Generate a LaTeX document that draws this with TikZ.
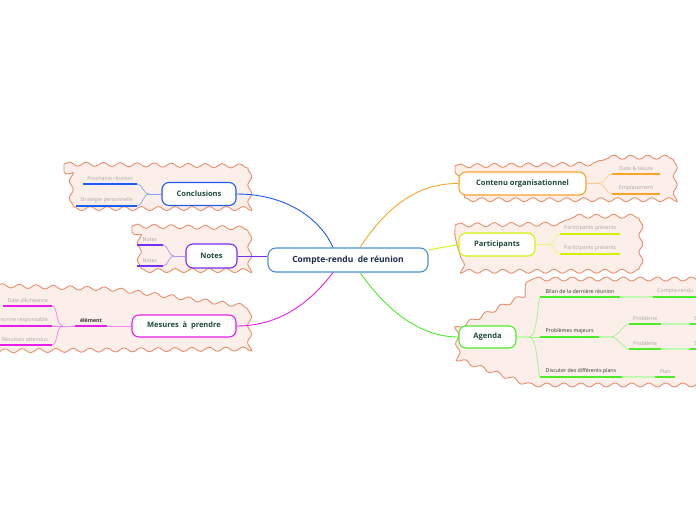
\documentclass[tikz,border=0pt]{standalone}
\usepackage{fontspec}
\setmainfont{Open Sans}
\usetikzlibrary{decorations.pathmorphing}

\definecolor{cloudline}{HTML}{E98E6C}
\definecolor{cloudfill}{HTML}{FCEEE8}
\definecolor{centralblue}{HTML}{4A8FD6}
\definecolor{centraltext}{HTML}{1C2B4A}
\definecolor{topictext}{HTML}{1D4A3B}
\definecolor{leafgray}{HTML}{A6A6A6}
\definecolor{darktext}{HTML}{333333}
\definecolor{blueC}{HTML}{1F5CF5}
\definecolor{purpleC}{HTML}{7A2EF0}
\definecolor{magentaC}{HTML}{E81EE8}
\definecolor{orangeC}{HTML}{F7A528}
\definecolor{yellowC}{HTML}{D3F20A}
\definecolor{greenC}{HTML}{4FEA2A}

\tikzset{
  cloudzone/.style={draw=cloudline, fill=cloudfill, line width=0.9pt, decorate,
    decoration={snake, segment length=17pt, amplitude=2pt}},
  topic/.style={draw=#1, fill=white, line width=1.1pt, rounded corners=7pt,
    minimum height=23pt, inner sep=0pt, text=topictext,
    font=\fontsize{7.5}{9}\selectfont\bfseries},
  link/.style={draw=#1, line width=0.9pt},
  fork/.style={draw=#1!55, line width=0.7pt},
  leaf/.style={inner xsep=4pt, inner ysep=3.5pt, text=leafgray,
    font=\fontsize{5.3}{6}\selectfont},
  aleaf/.style={inner xsep=5.5pt, inner ysep=3.5pt, text=darktext,
    font=\fontsize{5.3}{6}\selectfont},
  bar/.style={draw=#1, line width=1.8pt},
  softbar/.style={draw=#1!35, line width=1.8pt},
}

\begin{document}
\begin{tikzpicture}[x=1pt,y=-1pt]
\useasboundingbox (0,0) rectangle (696,520);
\clip (0,0) rectangle (696,520);

% zones
\path[cloudzone] (64,164) -- (243,166) -- (243,212) -- (64,212) -- cycle;
\path[cloudzone] (132,226) -- (244,228) -- (244,272) -- (132,272) -- cycle;
\path[cloudzone] (-20,285) -- (110,289) -- (242,306) -- (242,350) -- (-20,352) -- cycle;
\path[cloudzone] (455,166) -- (590,164) -- (600,155) -- (664,155) -- (664,200) -- (455,200) -- cycle;
\path[cloudzone] (455,225) -- (557,224) -- (565,215) -- (633,215) -- (633,260) -- (455,260) -- cycle;
\path[cloudzone] (533,279) -- (712,279) -- (712,383) -- (530,383) -- (455,356) -- (453,318) -- cycle;

% centre + topics
\node[topic=centralblue, minimum width=160pt, minimum height=24pt, rounded corners=8pt,
  text=centraltext, font=\fontsize{8.5}{10}\selectfont\bfseries] (central) at (348,260) {Compte-rendu~ de réunion};
\node[topic=blueC, minimum width=74pt] (concl) at (199,194) {Conclusions};
\node[topic=purpleC, minimum width=51pt, minimum height=24pt] (notes) at (211.5,256) {Notes};
\node[topic=magentaC, minimum width=104pt, minimum height=22pt] (mesures) at (184,326) {Mesures~ à~ prendre};
\node[topic=orangeC, minimum width=127pt] (contenu) at (522.5,183.5) {Contenu organisationnel};
\node[topic=yellowC, minimum width=76pt] (part) at (497,244.5) {Participants};
\node[topic=greenC, minimum width=57pt, minimum height=22pt] (agenda) at (487.5,337) {Agenda};

% links to centre
\draw[link=blueC] (concl.east) .. controls (290,194) and (322,222) .. ([xshift=-15pt]central.north);
\draw[link=purpleC] (notes.east) -- (notes.east -| central.west);
\draw[link=magentaC] (mesures.east) .. controls (282,326) and (312,300) .. ([xshift=-15pt]central.south);
\draw[link=orangeC] ([xshift=12pt]central.north) .. controls (382,214) and (412,183) .. (contenu.west);
\draw[link=yellowC] ([yshift=10pt]central.east) -- (part.west);
\draw[link=greenC] ([xshift=12pt]central.south) .. controls (385,308) and (418,337) .. (agenda.west);

% Conclusions
\node[leaf, anchor=south east] (prochaine) at (137,184) {Prochaine réunion};
\node[leaf, anchor=south east] (strategie) at (137,206) {Stratégie personnelle};
\draw[bar=blueC] (prochaine.south west) -- (prochaine.south east);
\draw[bar=blueC] (strategie.south west) -- (strategie.south east);
\draw[fork=blueC] (concl.west) -- ++(-12,0) coordinate (cfork);
\draw[fork=blueC] (cfork) .. controls +(-7,0) and +(6,0) .. (prochaine.south east);
\draw[fork=blueC] (cfork) .. controls +(-7,0) and +(6,0) .. (strategie.south east);

% Notes
\node[leaf, anchor=south east, minimum width=26pt] (note1) at (163,245) {Notes};
\node[leaf, anchor=south east, minimum width=26pt] (note2) at (163,266) {Notes};
\draw[bar=purpleC] (note1.south west) -- (note1.south east);
\draw[bar=purpleC] (note2.south west) -- (note2.south east);
\draw[fork=purpleC] (notes.west) -- ++(-11,0) coordinate (nfork);
\draw[fork=purpleC] (nfork) .. controls +(-7,0) and +(6,0) .. (note1.south east);
\draw[fork=purpleC] (nfork) .. controls +(-7,0) and +(6,0) .. (note2.south east);

% Mesures a prendre
\node[aleaf, anchor=south, minimum width=32pt, inner xsep=0pt,
  font=\fontsize{5.3}{6}\selectfont\bfseries] (element) at (91,326) {élément};
\draw[bar=magentaC] (element.south west) -- (element.south east);
\draw[fork=magentaC] (mesures.west) -- (element.south east);
\node[leaf, anchor=south east] (echeance) at (52,306) {Date d'échéance};
\node[leaf, anchor=south east] (personne) at (52,326) {Personne responsable};
\node[leaf, anchor=south east] (resultats) at (52,345) {Résultats attendus};
\draw[bar=magentaC] (echeance.south west) -- (echeance.south east);
\draw[bar=magentaC] (personne.south west) -- (personne.south east);
\draw[bar=magentaC] (resultats.south west) -- (resultats.south east);
\draw[fork=magentaC] (element.south west) -- ++(-12,0) coordinate (mfork);
\draw[fork=magentaC] (mfork) .. controls +(-7,0) and +(6,0) .. (echeance.south east);
\draw[fork=magentaC] (mfork) -- (personne.south east);
\draw[fork=magentaC] (mfork) .. controls +(-7,0) and +(6,0) .. (resultats.south east);

% Contenu organisationnel
\node[leaf, anchor=south west, minimum width=48pt] (date) at (612,174) {Date \& Heure};
\node[leaf, anchor=south west, minimum width=48pt] (lieu) at (612,194) {Emplacement};
\draw[bar=orangeC] (date.south west) -- (date.south east);
\draw[bar=orangeC] (lieu.south west) -- (lieu.south east);
\draw[fork=orangeC] (contenu.east) -- ++(12,0) coordinate (ofork);
\draw[fork=orangeC] (ofork) .. controls +(7,0) and +(-6,0) .. (date.south west);
\draw[fork=orangeC] (ofork) .. controls +(7,0) and +(-6,0) .. (lieu.south west);

% Participants
\node[leaf, anchor=south west] (present1) at (560,234) {Participants présents};
\node[leaf, anchor=south west] (present2) at (560,254) {Participants présents};
\draw[bar=yellowC] (present1.south west) -- (present1.south east);
\draw[bar=yellowC] (present2.south west) -- (present2.south east);
\draw[fork=yellowC] (part.east) -- ++(13,0) coordinate (pfork);
\draw[fork=yellowC] (pfork) .. controls +(7,0) and +(-6,0) .. (present1.south west);
\draw[fork=yellowC] (pfork) .. controls +(7,0) and +(-6,0) .. (present2.south west);

% Agenda
\draw[softbar=greenC] (agenda.east) -- ++(13,0) coordinate (afork);
\node[aleaf, anchor=south west] (bilan) at (540,297) {Bilan de la dernière réunion};
\node[aleaf, anchor=south west] (majeurs) at (540,337) {Problèmes majeurs};
\node[aleaf, anchor=south west] (discuter) at (540,377) {Discuter des différents plans};
\draw[fork=greenC] (afork) .. controls +(8,0) and +(-2,0) .. (bilan.south west);
\draw[fork=greenC] (afork) -- (majeurs.south west);
\draw[fork=greenC] (afork) .. controls +(8,0) and +(-2,0) .. (discuter.south west);
\draw[bar=greenC] (bilan.south west) -- (bilan.south east);
\draw[bar=greenC] (majeurs.south west) -- (majeurs.south east);
\draw[bar=greenC] (discuter.south west) -- (discuter.south east);

\node[leaf, anchor=south west] (compte) at (653,297) {Compte-rendu};
\draw[softbar=greenC] (bilan.south east) -- (compte.south west);
\draw[bar=greenC] (compte.south west) -- ++(60,0);

\draw[softbar=greenC] (majeurs.south east) -- ++(12,0) coordinate (mfork2);
\node[leaf, anchor=south west] (prob1) at (629,324) {Problème};
\node[leaf, anchor=south west] (prob2) at (629,349) {Problème};
\draw[fork=greenC] (mfork2) .. controls +(6,0) and +(-5,0) .. (prob1.south west);
\draw[fork=greenC] (mfork2) .. controls +(6,0) and +(-5,0) .. (prob2.south west);
\draw[bar=greenC] (prob1.south west) -- (prob1.south east);
\draw[bar=greenC] (prob2.south west) -- (prob2.south east);
\node[leaf, anchor=south west] (sol1) at (690,324) {Solution};
\node[leaf, anchor=south west] (sol2) at (690,349) {Solution};
\draw[softbar=greenC] (prob1.south east) -- (sol1.south west);
\draw[softbar=greenC] (prob2.south east) -- (sol2.south west);
\draw[bar=greenC] (sol1.south west) -- (sol1.south east);
\draw[bar=greenC] (sol2.south west) -- (sol2.south east);

\node[leaf, anchor=south west, minimum width=20pt, inner xsep=0pt] (plan) at (655,377) {Plan};
\draw[softbar=greenC] (discuter.south east) -- (plan.south west);
\draw[bar=greenC] (plan.south west) -- (plan.south east);
\end{tikzpicture}
\end{document}
